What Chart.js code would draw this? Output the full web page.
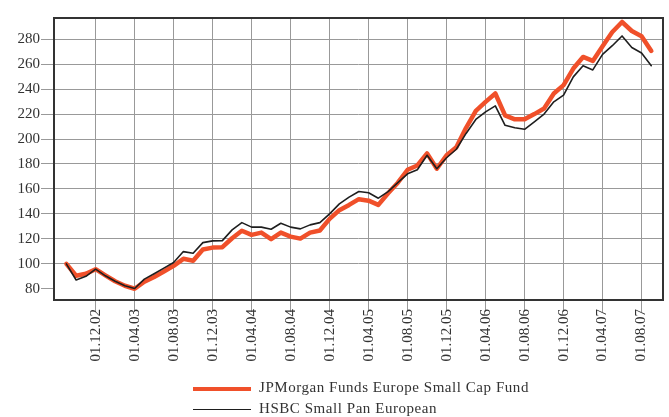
<!DOCTYPE html>
<html>
<head>
<meta charset="utf-8">
<script src="https://cdn.jsdelivr.net/npm/chart.js@4"></script>
<style>
  body { margin: 0; background: #fff; }
  #wrap { position: relative; width: 669px; height: 417px; }
  #legend { position: absolute; left: 193px; top: 377px; font-family: "Liberation Serif", serif; font-size: 15px; color: #333; letter-spacing: 0.55px; }
  #legend div { height: 21px; line-height: 21px; white-space: nowrap; }
  #legend span.sw { display: inline-block; width: 58px; vertical-align: middle; margin-right: 8px; }
</style>
</head>
<body>
<div id="wrap">
  <canvas id="my-chart" width="669" height="417"></canvas>
  <div id="legend"></div>
</div>
<script>
let months = ['01.09.02', '01.10.02', '01.11.02', '01.12.02', '01.01.03', '01.02.03', '01.03.03', '01.04.03', '01.05.03', '01.06.03',
    '01.07.03', '01.08.03', '01.09.03', '01.10.03', '01.11.03', '01.12.03', '01.01.04', '01.02.04', '01.03.04', '01.04.04',
    '01.05.04', '01.06.04', '01.07.04', '01.08.04', '01.09.04', '01.10.04', '01.11.04', '01.12.04', '01.01.05', '01.02.05',
    '01.03.05', '01.04.05', '01.05.05', '01.06.05', '01.07.05', '01.08.05', '01.09.05', '01.10.05', '01.11.05', '01.12.05',
    '01.01.06', '01.02.06', '01.03.06', '01.04.06', '01.05.06', '01.06.06', '01.07.06', '01.08.06', '01.09.06', '01.10.06',
    '01.11.06', '01.12.06', '01.01.07', '01.02.07', '01.03.07', '01.04.07', '01.05.07', '01.06.07', '01.07.07', '01.08.07',
    '01.09.07'];
let xTickLabels = ['01.12.02', '01.04.03', '01.08.03', '01.12.03', '01.04.04', '01.08.04', '01.12.04', '01.04.05',
    '01.08.05', '01.12.05', '01.04.06', '01.08.06', '01.12.06', '01.04.07', '01.08.07'];
let yTicks = [80, 100, 120, 140, 160, 180, 200, 220, 240, 260, 280];
let jpm = [100, 90.4, 92, 95.7, 90.8, 86, 82.4, 80, 85.6, 89.4,
    93.8, 98.4, 104, 102.4, 111.5, 113, 113.3, 120.5, 126.5, 123.2,
    125, 119.8, 125, 121.8, 120.2, 125, 126.7, 136, 143, 147.2,
    151.8, 150.6, 147.2, 156.5, 165, 175.4, 178.8, 188.5, 176.2, 187,
    193.4, 209, 222.6, 229.8, 236.5, 219, 215.8, 215.8, 220, 224.5,
    236.5, 243.2, 256.5, 265.8, 262.6, 274.4, 285.8, 293.8, 286.6, 282.4,
    270.6];
let hsbc = [100, 87, 90, 95.7, 90.4, 86, 82.4, 80.2, 87.7, 92,
    96.5, 101, 109.8, 108.5, 117, 118.4, 118.6, 127.2, 133, 129.4,
    129.4, 127.7, 132.5, 129.4, 128, 131.2, 133, 140, 148, 153.4,
    158, 157, 152.6, 157.8, 165, 172.1, 175.4, 187, 176.2, 185,
    191.8, 204.5, 215.7, 221.8, 226.6, 211, 209, 207.8, 213.8, 220,
    229.8, 235.2, 249.8, 258.8, 255.4, 267.8, 274.8, 282.6, 273.3, 269,
    258.8];

function toPoints(arr) {
    return arr.map((v, i) => ({ x: i, y: v }));
}

// frame around the plot area
const frame = {
    id: 'frame',
    afterDraw(chart) {
        const a = chart.chartArea, ctx = chart.ctx;
        ctx.save();
        ctx.strokeStyle = '#333';
        ctx.lineWidth = 2;
        ctx.strokeRect(a.left, a.top, a.right - a.left, a.bottom - a.top);
        ctx.restore();
    }
};

const font = { family: '"Liberation Serif", serif', size: 15 };

let chart = new Chart('my-chart', {
    type: 'line',
    data: {
        datasets: [
            {
                label: 'JPMorgan Funds Europe Small Cap Fund',
                data: toPoints(jpm),
                borderColor: '#f0502a',
                borderWidth: 4.5,
                order: 2
            },
            {
                label: 'HSBC Small Pan European',
                data: toPoints(hsbc),
                borderColor: '#1e1e1e',
                borderWidth: 1.6,
                order: 1
            }
        ]
    },
    options: {
        responsive: false,
        animation: false,
        layout: { padding: { top: 18, right: 6, bottom: 43, left: 0 } },
        elements: {
            point: { radius: 0 },
            line: { tension: 0, borderJoinStyle: 'round', borderCapStyle: 'round' }
        },
        plugins: {
            legend: { display: false },
            tooltip: { enabled: false }
        },
        scales: {
            x: {
                type: 'linear',
                min: -1.27,
                max: 61.2,
                afterBuildTicks: s => { s.ticks = xTickLabels.map(l => ({ value: months.indexOf(l) })); },
                afterFit: s => { s.height = 74; },
                ticks: {
                    minRotation: 90, maxRotation: 90, padding: -3,
                    color: '#333', font: font,
                    callback: v => months[v]
                },
                grid: { color: '#999', tickColor: '#999', tickLength: 12, lineWidth: 1 },
                border: { display: false }
            },
            y: {
                min: 71,
                max: 297,
                afterBuildTicks: s => { s.ticks = yTicks.map(v => ({ value: v })); },
                afterFit: s => { s.width = 54; },
                ticks: { color: '#333', font: font, padding: 1 },
                grid: {
                    color: c => (c.tick && c.tick.value === 80) ? 'rgba(0,0,0,0)' : '#999',
                    tickColor: '#999', tickLength: 13, lineWidth: 1
                },
                border: { display: false }
            }
        }
    },
    plugins: [frame]
});

// legend below the chart, one item per row
let legend = document.getElementById('legend');
chart.data.datasets.forEach(ds => {
    let row = document.createElement('div');
    let sw = document.createElement('span');
    sw.className = 'sw';
    sw.style.borderTop = ds.borderWidth + 'px solid ' + ds.borderColor;
    row.appendChild(sw);
    row.appendChild(document.createTextNode(ds.label));
    legend.appendChild(row);
});
</script>
</body>
</html>
